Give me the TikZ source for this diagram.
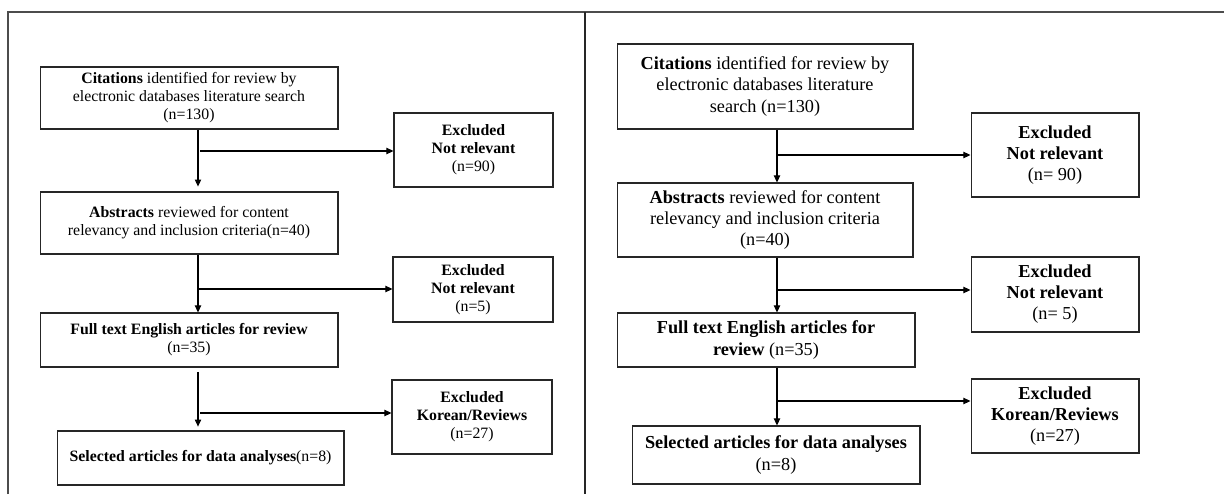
\documentclass[tikz,border=0pt]{standalone}
\usepackage{fontspec}
\setmainfont{Liberation Serif}
\usetikzlibrary{arrows.meta}

\tikzset{
  box/.style={draw=black!85, line width=0.6pt, inner sep=1pt, align=center},
  boxl/.style={box, font=\fontsize{9}{10.2}\selectfont},
  boxr/.style={box, font=\fontsize{10.4}{12}\selectfont},
  arr/.style={-{Triangle[length=4pt,width=3.6pt]}, line width=0.6pt},
}

\begin{document}
\begin{tikzpicture}[x=0.02cm,y=-0.02cm]
\useasboundingbox (0,0) rectangle (1224,494);
\draw[black!70, line width=0.7pt] (8,494) -- (8,12) -- (1224,12);
\draw[black!85, line width=0.8pt] (585,12) -- (585,494);

% left panel
\node[boxl, minimum width=5.96cm, minimum height=1.24cm] (citL) at (189,98)
  {\textbf{Citations} identified for review by\\ electronic databases literature search\\ (n=130)};
\node[boxl, minimum width=3.18cm, minimum height=1.48cm] (exc1L) at (473.5,150)
  {\textbf{Excluded}\\ \textbf{Not relevant}\\ (n=90)};
\node[boxl, minimum width=5.96cm, minimum height=1.24cm] (absL) at (189,223)
  {\textbf{Abstracts} reviewed for content\\ relevancy and inclusion criteria(n=40)};
\node[boxl, minimum width=3.2cm, minimum height=1.3cm] (exc2L) at (473,289.5)
  {\textbf{Excluded}\\ \textbf{Not relevant}\\ (n=5)};
\node[boxl, minimum width=5.96cm, minimum height=1.08cm] (fullL) at (189,340)
  {\textbf{Full text English articles for review}\\ (n=35)};
\node[boxl, minimum width=3.2cm, minimum height=1.48cm] (exc3L) at (472,417)
  {\textbf{Excluded}\\ \textbf{Korean/Reviews}\\ (n=27)};
\node[boxl, minimum width=5.74cm, minimum height=1.08cm] (selL) at (200.5,458)
  {\textbf{Selected articles for data analyses}(n=8)};

\coordinate (colL) at (198,0);
\coordinate (h1L) at (200,151);
\coordinate (h2L) at (198,289);
\coordinate (h3L) at (200,413);
\draw[arr, shorten >=2.8pt] (citL.south -| colL) -- (absL.north -| colL);
\draw[arr] (absL.south -| colL) -- (fullL.north -| colL);
\draw[arr, shorten <=2.5pt, shorten >=2.2pt] (fullL.south -| colL) -- (selL.north -| colL);
\draw[arr] (h1L) -- (h1L -| exc1L.west);
\draw[arr] (h2L) -- (h2L -| exc2L.west);
\draw[arr] (h3L) -- (h3L -| exc3L.west);

% right panel
\node[boxr, minimum width=5.92cm, minimum height=1.7cm] (citR) at (765,86.5)
  {\textbf{Citations} identified for review by\\ electronic databases literature\\ search (n=130)};
\node[boxr, minimum width=3.36cm, minimum height=1.68cm] (exc1R) at (1055,155)
  {\textbf{Excluded}\\ \textbf{Not relevant}\\ (n= 90)};
\node[boxr, minimum width=5.92cm, minimum height=1.48cm] (absR) at (765,220)
  {\textbf{Abstracts} reviewed for content\\ relevancy and inclusion criteria\\ (n=40)};
\node[boxr, minimum width=3.36cm, minimum height=1.5cm] (exc2R) at (1055,294.5)
  {\textbf{Excluded}\\ \textbf{Not relevant}\\ (n= 5)};
\node[boxr, minimum width=5.96cm, minimum height=1.08cm] (fullR) at (766,340)
  {\textbf{Full text English articles for}\\ \textbf{review} (n=35)};
\node[boxr, minimum width=3.36cm, minimum height=1.48cm] (exc3R) at (1055,416)
  {\textbf{Excluded}\\ \textbf{Korean/Reviews}\\ (n=27)};
\node[boxr, minimum width=5.76cm, minimum height=1.16cm] (selR) at (776,455)
  {\textbf{Selected articles for data analyses}\\ (n=8)};

\coordinate (colR) at (777,0);
\coordinate (h1R) at (777,155);
\coordinate (h2R) at (777,290);
\coordinate (h3R) at (777,401);
\draw[arr] (citR.south -| colR) -- (absR.north -| colR);
\draw[arr] (absR.south -| colR) -- (fullR.north -| colR);
\draw[arr] (fullR.south -| colR) -- (selR.north -| colR);
\draw[arr] (h1R) -- (h1R -| exc1R.west);
\draw[arr] (h2R) -- (h2R -| exc2R.west);
\draw[arr] (h3R) -- (h3R -| exc3R.west);
\end{tikzpicture}
\end{document}
